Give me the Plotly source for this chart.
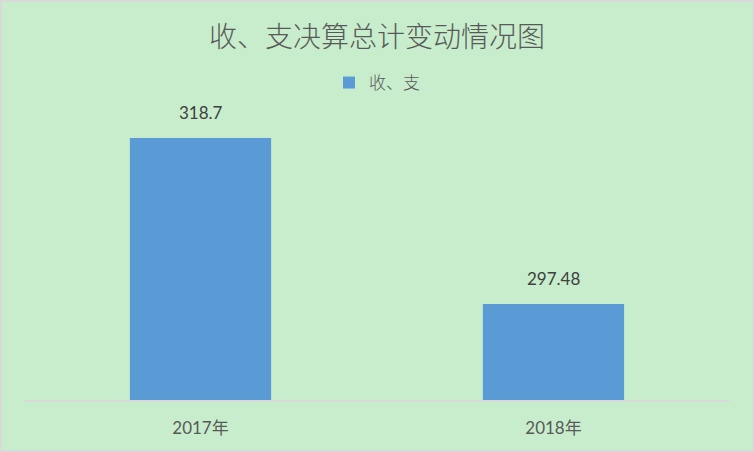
import plotly.graph_objects as go

categories = ["2017年", "2018年"]
values = [318.7, 297.48]
value_labels = ["318.7", "297.48"]
series_name = "收、支"
title_text = "收、支决算总计变动情况图"

W, H = 754, 452
ML, MR, MT, MB = 24, 24, 100, 52
pw, ph = W - ML - MR, H - MT - MB

fig = go.Figure()
fig.add_trace(go.Bar(
    x=categories, y=values, name=series_name,
    marker=dict(color="#5B9BD5", line=dict(width=0)),
    width=0.4,
))
for c, v, t in zip(categories, values, value_labels):
    fig.add_annotation(x=c, y=v, text=t, showarrow=False, yanchor="bottom", yshift=13,
                       font=dict(family="Lato, Noto Sans CJK SC", size=17, color="#404040"))

fig.add_shape(type="rect", xref="paper", yref="paper",
              x0=-ML / pw + 1 / pw, x1=1 + MR / pw - 1 / pw,
              y0=-MB / ph + 1 / ph, y1=1 + MT / ph - 1 / ph,
              line=dict(color="#D9D9D9", width=2), fillcolor="rgba(0,0,0,0)", layer="below")

fig.update_layout(
    width=W, height=H,
    margin=dict(l=ML, r=MR, t=MT, b=MB),
    paper_bgcolor="#C7EDCC", plot_bgcolor="#C7EDCC",
    title=dict(text=title_text, x=0.5, xanchor="center", y=1 - 37 / H, yanchor="middle",
               font=dict(family="Noto Sans CJK SC", size=28, color="#595959", weight=300)),
    legend=dict(orientation="h", x=0.5, xanchor="center", y=1 + 17 / ph, yanchor="middle",
                font=dict(family="Noto Sans CJK SC", size=17, color="#595959", weight=300),
                bgcolor="rgba(0,0,0,0)"),
    showlegend=True,
    xaxis=dict(showline=True, linecolor="#D9D9D9", linewidth=2, showgrid=False,
               ticks="", ticklabelstandoff=12,
               tickfont=dict(family="Lato, Noto Sans CJK SC", size=17, color="#595959")),
    yaxis=dict(range=[285.2, 323.55], visible=False, showgrid=False, zeroline=False),
    font=dict(family="Noto Sans CJK SC"),
)

fig.write_html("out.html", post_script="document.body.style.margin='0';",
               config={"displayModeBar": False})
